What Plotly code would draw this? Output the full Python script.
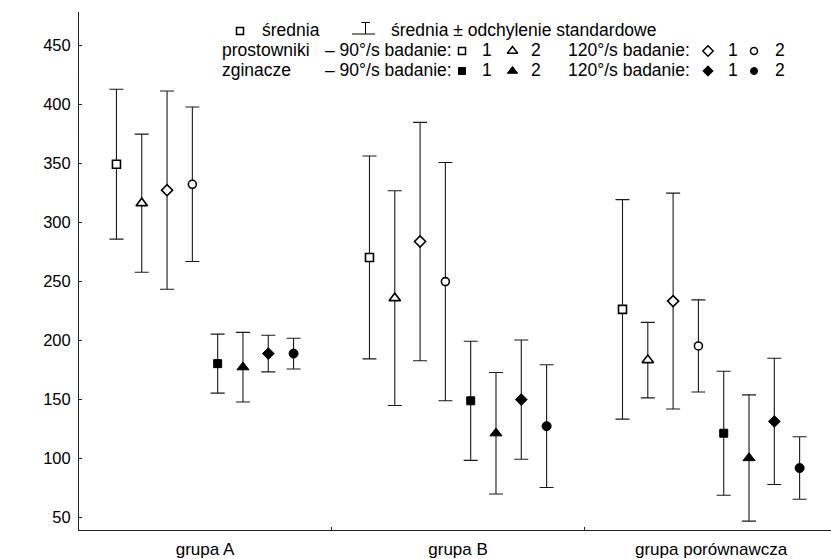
import numpy as np
import plotly.graph_objects as go

# --- data ---------------------------------------------------------------
groups = ["grupa A", "grupa B", "grupa porównawcza"]
y_ticks = [50, 100, 150, 200, 250, 300, 350, 400, 450]

# prostowniki (extensors) – mean and standard deviation of braking time [s]
p90_b1_mean = [349, 270, 226]
p90_b1_sd = [63.5, 86, 93]
p90_b2_mean = [316, 235.5, 183]
p90_b2_sd = [58.5, 91, 32]
p120_b1_mean = [327, 283.5, 233]
p120_b1_sd = [84, 101, 91.5]
p120_b2_mean = [332, 249.5, 195]
p120_b2_sd = [65.5, 101, 39]

# zginacze (flexors)
z90_b1_mean = [180, 148.5, 121]
z90_b1_sd = [25, 50.5, 52.5]
z90_b2_mean = [177, 121, 100]
z90_b2_sd = [29.5, 51.5, 53.5]
z120_b1_mean = [188.5, 149.5, 131]
z120_b1_sd = [15.5, 50.5, 53.5]
z120_b2_mean = [188.5, 127, 91.5]
z120_b2_sd = [13, 52, 26.5]

series = [
    ("prostowniki 90°/s, badanie 1", p90_b1_mean, p90_b1_sd, "square", False, 8),
    ("prostowniki 90°/s, badanie 2", p90_b2_mean, p90_b2_sd, "triangle-up", False, 10),
    ("prostowniki 120°/s, badanie 1", p120_b1_mean, p120_b1_sd, "diamond", False, 8.5),
    ("prostowniki 120°/s, badanie 2", p120_b2_mean, p120_b2_sd, "circle", False, 8),
    ("zginacze 90°/s, badanie 1", z90_b1_mean, z90_b1_sd, "square", True, 8),
    ("zginacze 90°/s, badanie 2", z90_b2_mean, z90_b2_sd, "triangle-up", True, 10.5),
    ("zginacze 120°/s, badanie 1", z120_b1_mean, z120_b1_sd, "diamond", True, 9),
    ("zginacze 120°/s, badanie 2", z120_b2_mean, z120_b2_sd, "circle", True, 9),
]

FONT = "Liberation Sans, Arial, sans-serif"
FS_TICK = 16.5
FS_LEG = 17.5
INK = "#000000"
AXIS = "#222222"

fig = go.Figure()

# points dodged within each group: 8 slots of 0.1 around the group centre
group_pos = np.arange(len(groups))
n = len(series)
for k, (name, mean, sd, symbol, filled, size) in enumerate(series):
    offset = (k - (n - 1) / 2) * 0.1
    fig.add_trace(go.Scatter(
        x=group_pos + offset,
        y=mean,
        mode="markers",
        name=name,
        showlegend=False,
        marker=dict(
            symbol=symbol,
            size=size,
            color=INK if filled else "white",
            line=dict(color=INK, width=1 if filled else 1.6),
        ),
        error_y=dict(type="data", array=sd, visible=True,
                     color="#1a1a1a", thickness=1.1, width=7),
    ))

# --- legend drawn in a pixel-like overlay space --------------------------
def leg_marker(x, y, symbol, filled, size):
    fig.add_trace(go.Scatter(
        x=[x], y=[y], xaxis="x2", yaxis="y2", mode="markers",
        showlegend=False, hoverinfo="skip",
        marker=dict(symbol=symbol, size=size,
                    color=INK if filled else "white",
                    line=dict(color=INK, width=1 if filled else 1.5)),
    ))

def leg_text(x, y, text, anchor="left"):
    fig.add_annotation(x=x, y=y, xref="x2", yref="y2", text=text,
                       showarrow=False, xanchor=anchor, yanchor="middle",
                       font=dict(family=FONT, size=FS_LEG, color=INK))

r1, r2, r3 = 30, 50, 70

# row 1: symbol key
leg_marker(240, r1 + 1, "square", False, 7)
leg_text(260, r1, "średnia")
for x0, y0, x1, y1 in [(352, r1 + 4, 375, r1 + 4), (365.5, r1 - 7.5, 365.5, r1 + 4),
                       (361.5, r1 - 7.5, 370, r1 - 7.5)]:
    fig.add_shape(type="line", xref="x2", yref="y2", x0=x0, y0=y0, x1=x1, y1=y1,
                  line=dict(color=INK, width=1))
leg_text(389, r1, "średnia ± odchylenie standardowe")

# rows 2 and 3: series key
for row, label, filled in [(r2, "prostowniki", False), (r3, "zginacze", True)]:
    leg_text(220, row, label)
    leg_text(454, row, "– 90°/s badanie:", anchor="right")
    leg_marker(462, row + 1, "square", filled, 7)
    leg_text(487, row, "1", anchor="center")
    leg_marker(512.5, row + 1, "triangle-up", filled, 9)
    leg_text(536, row, "2", anchor="center")
    leg_text(566, row, "120°/s badanie:")
    leg_marker(708, row + 1, "diamond", filled, 8)
    leg_text(733, row, "1", anchor="center")
    leg_marker(754, row + 1, "circle", filled, 7)
    leg_text(780, row, "2", anchor="center")

# y-axis title
fig.add_annotation(x=19, y=273, xref="x2", yref="y2", text="czas wyhamowania [s]",
                   textangle=-90, showarrow=False, xanchor="center", yanchor="middle",
                   font=dict(family=FONT, size=17.5, color=INK))

fig.update_layout(
    width=831, height=559,
    margin=dict(l=79, r=0, t=12, b=29),
    paper_bgcolor="white", plot_bgcolor="white",
    font=dict(family=FONT, size=FS_TICK, color=INK),
    xaxis=dict(
        range=[-0.498, 2.474],
        tickmode="array", tickvals=list(group_pos), ticktext=groups,
        ticks="", showgrid=False, zeroline=False,
        showline=True, linecolor=AXIS, linewidth=1,
        ticklabelstandoff=4,
        tickfont=dict(size=17),
        minor=dict(tickmode="array", tickvals=[0.5, 1.5], ticks="inside",
                   ticklen=3, tickcolor=AXIS, tickwidth=1, showgrid=False),
    ),
    yaxis=dict(
        range=[39, 478],
        tickmode="array", tickvals=y_ticks,
        ticks="inside", ticklen=3, tickcolor=AXIS, tickwidth=1,
        showgrid=False, zeroline=False,
        showline=True, linecolor=AXIS, linewidth=1,
        ticklabelstandoff=4,
    ),
    xaxis2=dict(overlaying="x", range=[79, 831], visible=False, anchor="y2"),
    yaxis2=dict(overlaying="y", range=[530, 12], visible=False, anchor="x2"),
)

fig.write_html("out.html")
